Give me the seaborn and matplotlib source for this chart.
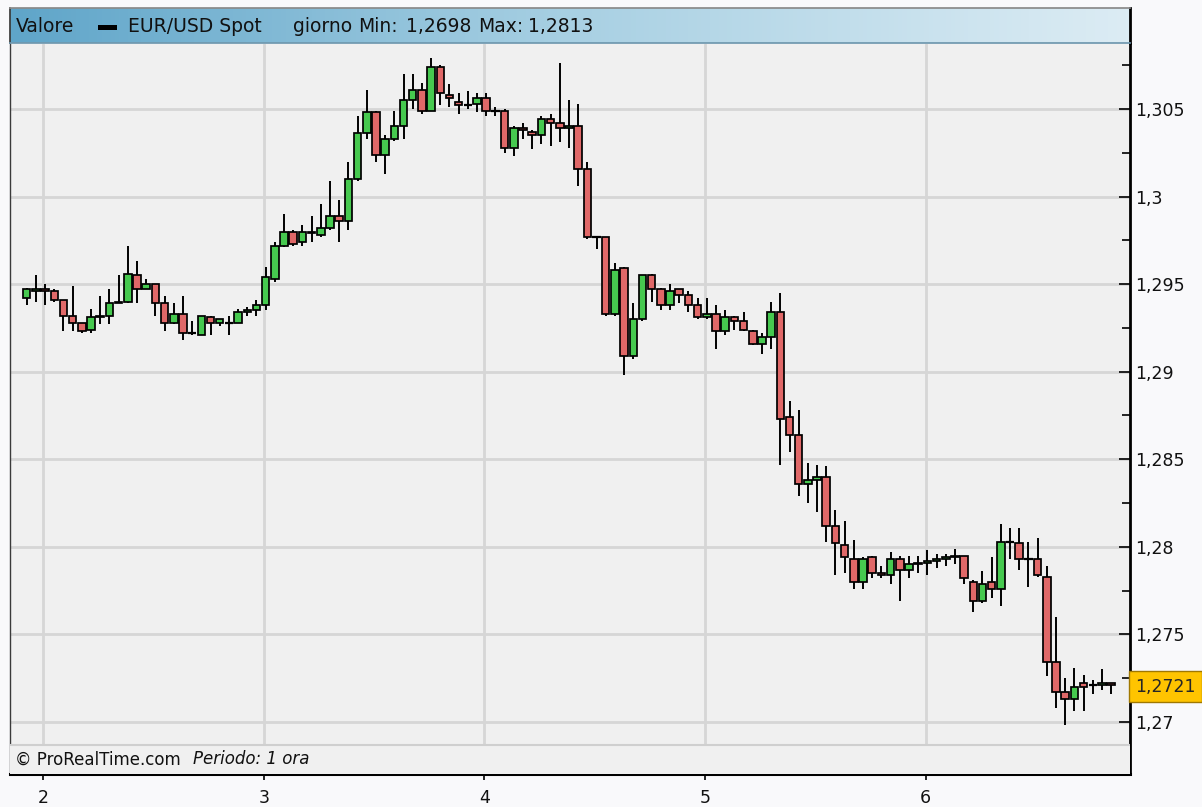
import numpy as np
import pandas as pd
import matplotlib
matplotlib.use('Agg')
import matplotlib.pyplot as plt
import matplotlib.transforms as mtransforms
from matplotlib.colors import LinearSegmentedColormap
from matplotlib.patches import Rectangle
from matplotlib.ticker import FuncFormatter
import seaborn as sns

# EUR/USD candele orarie (letture dal grafico)
opens = [1.2942, 1.2946, 1.2947, 1.2946, 1.2941, 1.2932, 1.2928, 1.2924, 1.2931, 1.2932,
         1.2939, 1.2940, 1.2955, 1.2947, 1.2950, 1.2939, 1.2928, 1.2933, 1.2922, 1.2921,
         1.2931, 1.2928, 1.2928, 1.2928, 1.2934, 1.2935, 1.2938, 1.2953, 1.2972, 1.2980,
         1.2974, 1.2980, 1.2978, 1.2982, 1.2989, 1.2986, 1.3010, 1.3036, 1.3048, 1.3024,
         1.3033, 1.3040, 1.3055, 1.3061, 1.3049, 1.3074, 1.3058, 1.3054, 1.3052, 1.3053,
         1.3056, 1.3049, 1.3049, 1.3028, 1.3039, 1.3037, 1.3035, 1.3044, 1.3042, 1.3039,
         1.3040, 1.3016, 1.2977, 1.2977, 1.2933, 1.2959, 1.2909, 1.2930, 1.2955, 1.2947,
         1.2938, 1.2947, 1.2944, 1.2938, 1.2931, 1.2933, 1.2923, 1.2931, 1.2929, 1.2923,
         1.2916, 1.2920, 1.2934, 1.2874, 1.2864, 1.2836, 1.2838, 1.2840, 1.2812, 1.2801,
         1.2793, 1.2780, 1.2794, 1.2785, 1.2784, 1.2793, 1.2787, 1.2790, 1.2791, 1.2792,
         1.2793, 1.2794, 1.2795, 1.2780, 1.2769, 1.2780, 1.2776, 1.2803, 1.2802, 1.2793,
         1.2793, 1.2783, 1.2734, 1.2717, 1.2713, 1.2722, 1.2721, 1.2721, 1.2722]
highs = [1.2948, 1.2955, 1.2950, 1.2947, 1.2941, 1.2949, 1.2928, 1.2936, 1.2943, 1.2947,
         1.2955, 1.2972, 1.2963, 1.2953, 1.2950, 1.2943, 1.2939, 1.2943, 1.2929, 1.2932,
         1.2932, 1.2930, 1.2932, 1.2936, 1.2937, 1.2941, 1.2960, 1.2974, 1.2990, 1.2981,
         1.2984, 1.2989, 1.2996, 1.3009, 1.2998, 1.3020, 1.3046, 1.3061, 1.3049, 1.3035,
         1.3049, 1.3070, 1.3070, 1.3065, 1.3079, 1.3075, 1.3064, 1.3059, 1.3060, 1.3059,
         1.3059, 1.3051, 1.3050, 1.3040, 1.3042, 1.3038, 1.3046, 1.3047, 1.3076, 1.3055,
         1.3053, 1.3020, 1.2977, 1.2977, 1.2962, 1.2960, 1.2939, 1.2955, 1.2956, 1.2948,
         1.2950, 1.2947, 1.2946, 1.2942, 1.2942, 1.2938, 1.2935, 1.2932, 1.2934, 1.2924,
         1.2922, 1.2940, 1.2945, 1.2883, 1.2878, 1.2848, 1.2847, 1.2846, 1.2821, 1.2815,
         1.2804, 1.2794, 1.2795, 1.2789, 1.2797, 1.2795, 1.2795, 1.2795, 1.2798, 1.2796,
         1.2796, 1.2799, 1.2795, 1.2781, 1.2786, 1.2794, 1.2813, 1.2811, 1.2811, 1.2803,
         1.2805, 1.2789, 1.2760, 1.2725, 1.2731, 1.2727, 1.2724, 1.2730, 1.2722]
lows = [1.2938, 1.2940, 1.2938, 1.2940, 1.2923, 1.2923, 1.2922, 1.2922, 1.2927, 1.2927,
        1.2939, 1.2939, 1.2939, 1.2947, 1.2932, 1.2923, 1.2927, 1.2918, 1.2921, 1.2921,
        1.2921, 1.2926, 1.2921, 1.2928, 1.2932, 1.2932, 1.2935, 1.2951, 1.2971, 1.2972,
        1.2972, 1.2974, 1.2977, 1.2981, 1.2974, 1.2981, 1.3009, 1.3033, 1.3020, 1.3013,
        1.3032, 1.3033, 1.3050, 1.3047, 1.3049, 1.3052, 1.3051, 1.3047, 1.3050, 1.3048,
        1.3046, 1.3046, 1.3025, 1.3023, 1.3033, 1.3027, 1.3030, 1.3029, 1.3031, 1.3028,
        1.3006, 1.2976, 1.2970, 1.2932, 1.2932, 1.2898, 1.2907, 1.2929, 1.2940, 1.2935,
        1.2935, 1.2939, 1.2934, 1.2930, 1.2930, 1.2913, 1.2921, 1.2924, 1.2923, 1.2915,
        1.2910, 1.2913, 1.2847, 1.2854, 1.2829, 1.2825, 1.2820, 1.2803, 1.2784, 1.2785,
        1.2776, 1.2776, 1.2782, 1.2782, 1.2779, 1.2769, 1.2782, 1.2785, 1.2784, 1.2788,
        1.2789, 1.2790, 1.2779, 1.2763, 1.2768, 1.2771, 1.2766, 1.2793, 1.2787, 1.2777,
        1.2783, 1.2726, 1.2708, 1.2698, 1.2706, 1.2706, 1.2716, 1.2718, 1.2716]
closes = [1.2947, 1.2947, 1.2946, 1.2941, 1.2932, 1.2928, 1.2923, 1.2931, 1.2932, 1.2939,
          1.2940, 1.2956, 1.2947, 1.2950, 1.2939, 1.2928, 1.2933, 1.2922, 1.2922, 1.2932,
          1.2928, 1.2930, 1.2928, 1.2934, 1.2935, 1.2938, 1.2954, 1.2972, 1.2980, 1.2973,
          1.2980, 1.2979, 1.2982, 1.2989, 1.2986, 1.3010, 1.3036, 1.3048, 1.3024, 1.3033,
          1.3040, 1.3055, 1.3061, 1.3049, 1.3074, 1.3059, 1.3056, 1.3052, 1.3052, 1.3056,
          1.3049, 1.3049, 1.3028, 1.3039, 1.3038, 1.3035, 1.3044, 1.3042, 1.3039, 1.3040,
          1.3016, 1.2977, 1.2977, 1.2933, 1.2958, 1.2909, 1.2930, 1.2955, 1.2947, 1.2938,
          1.2946, 1.2944, 1.2938, 1.2931, 1.2933, 1.2923, 1.2931, 1.2929, 1.2924, 1.2916,
          1.2920, 1.2934, 1.2873, 1.2864, 1.2836, 1.2838, 1.2840, 1.2812, 1.2802, 1.2794,
          1.2780, 1.2793, 1.2785, 1.2784, 1.2793, 1.2787, 1.2790, 1.2791, 1.2792, 1.2793,
          1.2794, 1.2795, 1.2782, 1.2769, 1.2779, 1.2776, 1.2803, 1.2803, 1.2793, 1.2793,
          1.2784, 1.2734, 1.2717, 1.2713, 1.2720, 1.2720, 1.2721, 1.2722, 1.2721]

day_labels = ['2', '3', '4', '5', '6']
day_pos = [1.8, 25.8, 49.8, 73.8, 97.8]
ytick_vals = [1.27, 1.275, 1.28, 1.285, 1.29, 1.295, 1.30, 1.305]
yminor_vals = [1.2725, 1.2775, 1.2825, 1.2875, 1.2925, 1.2975, 1.3025, 1.3075]
last_price = 1.2721
day_min = 1.2698
day_max = 1.2813

df = pd.DataFrame({'open': opens, 'high': highs, 'low': lows, 'close': closes})
df['x'] = np.arange(len(df))

sns.set_theme(style='white')
plt.rcParams['font.family'] = ['DejaVu Sans']

W, H = 1202, 807
fig = plt.figure(figsize=(W / 100, H / 100), dpi=100)
fig.patch.set_facecolor('#f9f9fb')


def box(x0, y0, x1, y1):
    return [x0 / W, 1 - y1 / H, (x1 - x0) / W, (y1 - y0) / H]


def it_fmt(v, pos=None):
    s = f'{round(v, 4):.4f}'.rstrip('0').rstrip('.')
    return s.replace('.', ',')


ax = fig.add_axes(box(10, 44, 1130, 774))
ax.set_facecolor('#f0f0f0')

green = '#46c94f'
red = '#e06868'

# stoppini
ax.vlines(df['x'], df['low'], df['high'], color='black', lw=1.4, zorder=2)

# corpi
up = df[df['close'] > df['open']]
dn = df[df['close'] < df['open']]
flat = df[df['close'] == df['open']]
ax.bar(up['x'], up['close'] - up['open'], bottom=up['open'], width=0.82,
       color=green, edgecolor='black', lw=1.25, zorder=3)
ax.bar(dn['x'], dn['close'] - dn['open'], bottom=dn['open'], width=0.82,
       color=red, edgecolor='black', lw=1.25, zorder=3)
ax.hlines(flat['open'], flat['x'] - 0.45, flat['x'] + 0.45, color='black', lw=1.6, zorder=3)

ax.set_xlim(-1.82, 120.05)
ax.set_ylim(1.26703, 1.30871)

ax.set_xticks(day_pos, day_labels)
ax.set_yticks(ytick_vals)
ax.set_yticks(yminor_vals, minor=True)
ax.yaxis.set_major_formatter(FuncFormatter(it_fmt))
ax.yaxis.tick_right()
ax.tick_params(axis='y', which='major', direction='in', length=8, width=1.2,
               colors='black', labelsize=12.5, pad=4, right=True, left=False)
ax.tick_params(axis='y', which='minor', direction='in', length=6, width=1.2,
               colors='black', right=True, left=False)
ax.tick_params(axis='x', direction='out', length=4, width=1.2, colors='black',
               labelsize=12.5, pad=7, bottom=True)
for lab in ax.get_yticklabels() + ax.get_xticklabels():
    lab.set_color('#111111')

ax.grid(True, which='major', color='#d6d6d6', lw=2)
ax.set_axisbelow(True)

ax.spines['top'].set_visible(False)
ax.spines['left'].set_color('#3a3a3a')
ax.spines['left'].set_linewidth(1.0)
ax.spines['right'].set_color('black')
ax.spines['right'].set_linewidth(2.0)
ax.spines['bottom'].set_color('black')
ax.spines['bottom'].set_linewidth(2.2)

# piè di pagina
fh = (774 - 745) / 730
ax.add_patch(Rectangle((0, 0), 1, fh, transform=ax.transAxes, fc='#f0f0f0',
                       ec='none', zorder=4))
ax.plot([0, 1], [fh, fh], transform=ax.transAxes, color='#cfcfcf', lw=1.5, zorder=5)
ax.text(5 / 1120, fh / 2, '© ProRealTime.com', transform=ax.transAxes,
        fontsize=12, va='center', ha='left', zorder=6, color='#111111')
ax.text(183 / 1120, fh / 2, 'Periodo: 1 ora', transform=ax.transAxes,
        fontsize=12, va='center', ha='left', style='italic', zorder=6, color='#111111')

# etichetta prezzo corrente
trans = mtransforms.blended_transform_factory(ax.transAxes, ax.transData)
ax.text(1.0047, last_price - 0.00008, it_fmt(last_price), transform=trans, fontsize=12.5,
        ha='left', va='center', clip_on=False, zorder=7,
        bbox=dict(boxstyle='square,pad=0.36', fc='#ffc400', ec='#a07800', lw=1))

# intestazione
hax = fig.add_axes(box(10, 8, 1130, 43))
cmap = LinearSegmentedColormap.from_list('hdr', ['#5fa5c9', '#a8d0e3', '#dcecf4'])
hax.imshow(np.linspace(0, 1, 256).reshape(1, -1), cmap=cmap, aspect='auto',
           extent=[0, 1, 0, 1])
hax.set_xlim(0, 1)
hax.set_ylim(0, 1)
hax.set_xticks([])
hax.set_yticks([])
hax.spines['left'].set_color('#3a3a3a')
hax.spines['top'].set_color('#8a8a8a')
hax.spines['right'].set_color('black')
hax.spines['right'].set_linewidth(2.0)
hax.spines['bottom'].set_color('#6f98ae')


def hx(px):
    return (px - 10) / 1120


header_words = [('Valore', 16), ('EUR/USD Spot', 128), ('giorno', 293), ('Min:', 358),
                (it_fmt(day_min), 406), ('Max:', 478), (it_fmt(day_max), 528)]
for word, px in header_words:
    hax.text(hx(px), 0.47, word, fontsize=13.5, va='center', ha='left', color='#111111')
hax.add_patch(Rectangle((hx(98), 0.37), hx(117) - hx(98), 0.14, fc='black', ec='none'))

fig.savefig('out.png', dpi=100, facecolor=fig.get_facecolor())
